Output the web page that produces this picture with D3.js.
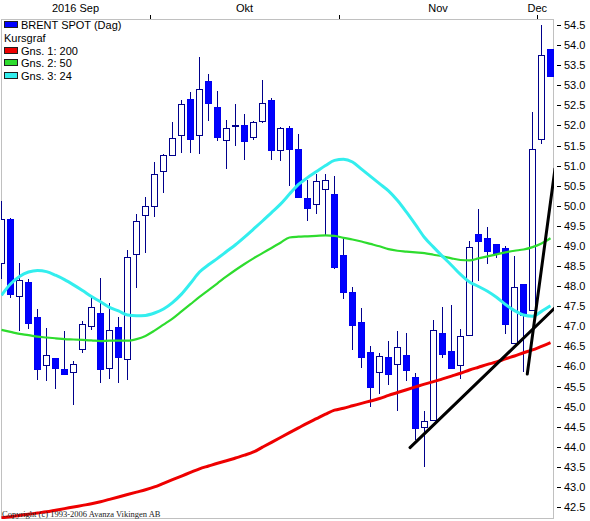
<!DOCTYPE html>
<html>
<head>
<meta charset="utf-8">
<script src="https://cdn.jsdelivr.net/npm/d3@7"></script>
<style>
    body { margin: 0; background: #fff; }
    text { font-family: Arial, "Liberation Sans", sans-serif; }
</style>
</head>
<body>
<div id="chart"></div>
<script>
// Chart frame (plot area inside the 590x521 window)
const CHART = {
    width: 590,
    height: 521,
    plot: { left: 1, top: 19, right: 554, bottom: 519 }
};

// Daily candles, 8 Sep - 2 Dec 2016 (first one is clipped by the frame)
const opens = [48.55, 49.65, 47.75, 48.10, 47.23, 46.02, 46.19, 45.92, 45.84, 46.42, 46.99, 47.32, 45.94, 46.98, 46.17, 48.79, 49.75, 49.98, 50.85, 51.25, 51.74, 52.64, 51.74, 53.10, 52.44, 51.63, 51.98, 51.99, 51.71, 52.10, 52.63, 51.38, 51.92, 51.39, 50.19, 50.02, 50.40, 50.28, 48.75, 47.83, 47.10, 46.34, 45.85, 46.23, 46.05, 46.26, 45.73, 44.48, 44.66, 46.83, 46.38, 46.02, 46.78, 49.28, 49.19, 49.04, 48.93, 46.57, 48.03, 47.39, 51.64, 53.90];
const highs = [50.13, 49.70, 48.58, 48.18, 47.43, 46.96, 46.20, 46.88, 46.13, 47.13, 47.70, 48.19, 47.58, 47.23, 48.89, 49.79, 50.23, 51.10, 51.29, 52.08, 52.63, 52.82, 53.70, 53.29, 52.85, 52.13, 52.54, 52.28, 52.11, 53.13, 52.69, 51.95, 51.98, 51.79, 50.63, 50.79, 50.79, 50.73, 49.17, 47.98, 47.46, 46.50, 46.33, 46.63, 46.88, 46.83, 45.83, 44.89, 47.16, 47.49, 47.54, 46.92, 49.13, 49.93, 49.46, 49.04, 49.00, 48.75, 48.06, 52.33, 54.50, 53.90];
const lows = [48.18, 47.70, 46.88, 46.93, 45.65, 45.63, 45.45, 45.80, 45.05, 46.33, 46.90, 45.58, 45.69, 45.58, 45.67, 47.96, 48.83, 49.73, 50.31, 51.25, 51.31, 51.31, 51.28, 52.10, 51.61, 50.92, 51.48, 51.14, 51.63, 52.07, 51.15, 51.11, 50.48, 50.21, 49.61, 49.79, 49.28, 48.42, 47.69, 46.42, 45.96, 45.00, 45.32, 45.54, 44.90, 45.63, 44.17, 43.50, 44.64, 46.21, 45.96, 45.69, 46.78, 48.13, 48.54, 48.71, 46.81, 46.57, 45.86, 47.39, 51.53, 53.23];
const closes = [49.65, 47.80, 48.13, 47.06, 45.93, 46.28, 45.94, 45.81, 46.06, 47.04, 47.46, 45.92, 46.89, 46.21, 48.71, 49.61, 49.98, 50.77, 51.24, 51.67, 52.52, 51.64, 52.89, 52.54, 51.69, 51.93, 51.99, 51.61, 52.07, 52.54, 51.38, 51.92, 51.39, 50.21, 49.92, 50.61, 50.64, 48.46, 47.83, 47.02, 46.21, 45.48, 46.25, 45.81, 46.48, 45.89, 44.46, 44.64, 46.89, 46.29, 45.96, 46.74, 48.96, 49.11, 48.86, 48.82, 47.04, 47.96, 47.27, 51.39, 53.73, 53.23];

// Moving averages
const ma200 = [42.23, 42.26, 42.29, 42.32, 42.35, 42.38, 42.42, 42.46, 42.50, 42.54, 42.58, 42.63, 42.69, 42.75, 42.81, 42.87, 42.93, 43.00, 43.09, 43.18, 43.27, 43.36, 43.45, 43.52, 43.59, 43.65, 43.72, 43.79, 43.87, 43.99, 44.11, 44.23, 44.35, 44.47, 44.59, 44.70, 44.81, 44.91, 44.96, 45.02, 45.08, 45.14, 45.20, 45.28, 45.35, 45.42, 45.49, 45.56, 45.62, 45.69, 45.76, 45.83, 45.91, 45.98, 46.05, 46.11, 46.19, 46.26, 46.34, 46.41, 46.50, 46.59];
const ma50 = [46.91, 46.86, 46.81, 46.78, 46.74, 46.72, 46.70, 46.68, 46.67, 46.66, 46.65, 46.63, 46.64, 46.64, 46.64, 46.68, 46.76, 46.89, 47.04, 47.19, 47.37, 47.55, 47.73, 47.90, 48.07, 48.24, 48.40, 48.55, 48.69, 48.82, 48.95, 49.08, 49.21, 49.23, 49.24, 49.25, 49.26, 49.25, 49.20, 49.16, 49.11, 49.05, 48.99, 48.92, 48.88, 48.86, 48.84, 48.82, 48.78, 48.74, 48.69, 48.65, 48.64, 48.69, 48.74, 48.79, 48.84, 48.88, 48.91, 48.97, 49.06, 49.19];
const ma24 = [47.77, 48.05, 48.24, 48.35, 48.39, 48.36, 48.27, 48.16, 48.03, 47.89, 47.74, 47.61, 47.47, 47.38, 47.28, 47.26, 47.27, 47.33, 47.43, 47.59, 47.80, 48.07, 48.35, 48.53, 48.69, 48.86, 49.03, 49.22, 49.42, 49.62, 49.83, 50.04, 50.29, 50.53, 50.70, 50.85, 51.00, 51.13, 51.16, 51.09, 50.91, 50.73, 50.55, 50.37, 50.13, 49.84, 49.53, 49.21, 48.97, 48.74, 48.52, 48.29, 48.10, 47.99, 47.87, 47.72, 47.54, 47.39, 47.28, 47.25, 47.37, 47.51];

// Hand drawn trend lines: [candle index, price] pairs
const trendLine1 = [[45.39, 43.98], [61.5, 47.46]];
const trendLine2 = [[58.42, 45.81], [61.5, 50.92]];

// Top axis: months and the index of their first candle
const monthLabels = ["2016 Sep", "Okt", "Nov", "Dec"];
const monthFirstIndex = [0, 17, 38, 60];

// Right axis ticks
const priceTicks = [42.5, 43.0, 43.5, 44.0, 44.5, 45.0, 45.5, 46.0, 46.5, 47.0, 47.5, 48.0, 48.5, 49.0, 49.5, 50.0, 50.5, 51.0, 51.5, 52.0, 52.5, 53.0, 53.5, 54.0, 54.5];

const legendItems = [
    { label: "BRENT SPOT (Dag)", color: "#0000ff" },
    { label: "Kursgraf", color: null },
    { label: "Gns. 1: 200", color: "#ee0000" },
    { label: "Gns. 2: 50", color: "#2edc2e" },
    { label: "Gns. 3: 24", color: "#33eeee" }
];

const candles = opens.map((o, i) => ({ i, o, h: highs[i], l: lows[i], c: closes[i] }));
const P = CHART.plot;

const svg = d3.select("#chart")
    .append("svg")
    .attr("width", CHART.width)
    .attr("height", CHART.height);

// Scales
const xScale = d3.scaleLinear()
    .domain([0, candles.length - 1])
    .range([1.5, 550.5]);

const yScale = d3.scaleLinear()
    .domain([42.5, 54.5])
    .range([507, 25]);

svg.append("defs").append("clipPath")
    .attr("id", "plotClip")
    .append("rect")
    .attr("x", P.left)
    .attr("y", P.top)
    .attr("width", P.right - P.left)
    .attr("height", P.bottom - P.top);

// Frame
svg.append("rect")
    .attr("x", P.left + 0.5)
    .attr("y", P.top + 0.5)
    .attr("width", P.right - P.left - 1)
    .attr("height", P.bottom - P.top - 1)
    .attr("fill", "none")
    .attr("stroke", "#c0c0c0");

const plot = svg.append("g").attr("clip-path", "url(#plotClip)");

// Candles
const candleG = plot.append("g").attr("shape-rendering", "crispEdges");
const boxW = 6;

candleG.selectAll(".wick")
    .data(candles)
    .enter()
    .append("line")
    .attr("class", "wick")
    .attr("x1", d => xScale(d.i))
    .attr("x2", d => xScale(d.i))
    .attr("y1", d => yScale(d.h))
    .attr("y2", d => yScale(d.l))
    .attr("stroke", "#00008b")
    .attr("stroke-width", 1);

candleG.selectAll(".body")
    .data(candles)
    .enter()
    .append("rect")
    .attr("class", "body")
    .attr("x", d => xScale(d.i) - boxW / 2)
    .attr("width", boxW)
    .attr("y", d => yScale(Math.max(d.o, d.c)))
    .attr("height", d => Math.max(1, Math.abs(yScale(d.o) - yScale(d.c))))
    .attr("fill", d => d.c < d.o ? "#0000ff" : "#ffffff")
    .attr("stroke", d => d.c < d.o ? "#0000ee" : "#00008b")
    .attr("stroke-width", 1);

// Moving averages
const maLine = d3.line()
    .x((d, i) => xScale(i))
    .y(d => yScale(d))
    .curve(d3.curveMonotoneX);

plot.append("path").datum(ma50)
    .attr("d", maLine)
    .attr("fill", "none")
    .attr("stroke", "#2edc2e")
    .attr("stroke-width", 2.2);

plot.append("path").datum(ma24)
    .attr("d", maLine)
    .attr("fill", "none")
    .attr("stroke", "#33eeee")
    .attr("stroke-width", 3);

plot.append("path").datum(ma200)
    .attr("d", maLine)
    .attr("fill", "none")
    .attr("stroke", "#ee0000")
    .attr("stroke-width", 3);

// Trend lines
const trend = d3.line()
    .x(d => xScale(d[0]))
    .y(d => yScale(d[1]));

[trendLine1, trendLine2].forEach(t => {
    plot.append("path").datum(t)
        .attr("d", trend)
        .attr("fill", "none")
        .attr("stroke", "#000")
        .attr("stroke-width", 3)
        .attr("stroke-linecap", "round");
});

// Right price axis
const yAxis = svg.append("g").attr("class", "y-axis");

yAxis.selectAll("line")
    .data(priceTicks)
    .enter()
    .append("line")
    .attr("x1", 557)
    .attr("x2", 561)
    .attr("y1", d => Math.round(yScale(d)) + 0.5)
    .attr("y2", d => Math.round(yScale(d)) + 0.5)
    .attr("stroke", "#000");

yAxis.selectAll("text")
    .data(priceTicks)
    .enter()
    .append("text")
    .attr("x", 564)
    .attr("y", d => yScale(d) + 4)
    .style("font-size", "11px")
    .attr("fill", "#000")
    .text(d => d.toFixed(1));

// Top month axis
const boundaries = monthFirstIndex.map(i => xScale(i - 0.5));

svg.selectAll(".month-tick")
    .data(boundaries.slice(1))
    .enter()
    .append("line")
    .attr("class", "month-tick")
    .attr("x1", d => Math.round(d) + 0.5)
    .attr("x2", d => Math.round(d) + 0.5)
    .attr("y1", 15)
    .attr("y2", P.top)
    .attr("stroke", "#000");

svg.selectAll(".month-label")
    .data(monthLabels)
    .enter()
    .append("text")
    .attr("class", "month-label")
    .attr("text-anchor", "middle")
    .attr("y", 12)
    .style("font-size", "11px")
    .attr("fill", "#000")
    .text(d => d)
    .attr("x", function (d, i) {
        const left = Math.max(P.left, boundaries[i]);
        const right = i + 1 < boundaries.length ? boundaries[i + 1] : P.right;
        const w = this.getComputedTextLength();
        return Math.min((left + right) / 2, P.right - 7 - w / 2);
    });

// Legend
const legend = svg.append("g").attr("class", "legend");

legend.append("rect")
    .attr("x", P.left + 1)
    .attr("y", P.top + 1)
    .attr("width", 120)
    .attr("height", 64)
    .attr("fill", "#fff");

legendItems.forEach((item, k) => {
    const cy = 25 + k * 12.8;
    let tx = 4;
    if (item.color) {
        legend.append("rect")
            .attr("x", 4.5)
            .attr("y", Math.round(cy) - 3.5)
            .attr("width", 13)
            .attr("height", 6)
            .attr("fill", item.color)
            .attr("stroke", "#202020")
            .attr("stroke-width", 1);
        tx = 21;
    }
    legend.append("text")
        .attr("x", tx)
        .attr("y", cy + 4)
        .style("font-size", "11px")
        .attr("fill", "#000")
        .text(item.label);
});

// Copyright note
svg.append("text")
    .attr("x", 2)
    .attr("y", 517)
    .style("font-family", "'Liberation Serif', 'Times New Roman', serif")
    .style("font-size", "8.5px")
    .attr("fill", "#222")
    .text("Copyright (c) 1993-2006 Avanza Vikingen AB");
</script>
</body>
</html>
